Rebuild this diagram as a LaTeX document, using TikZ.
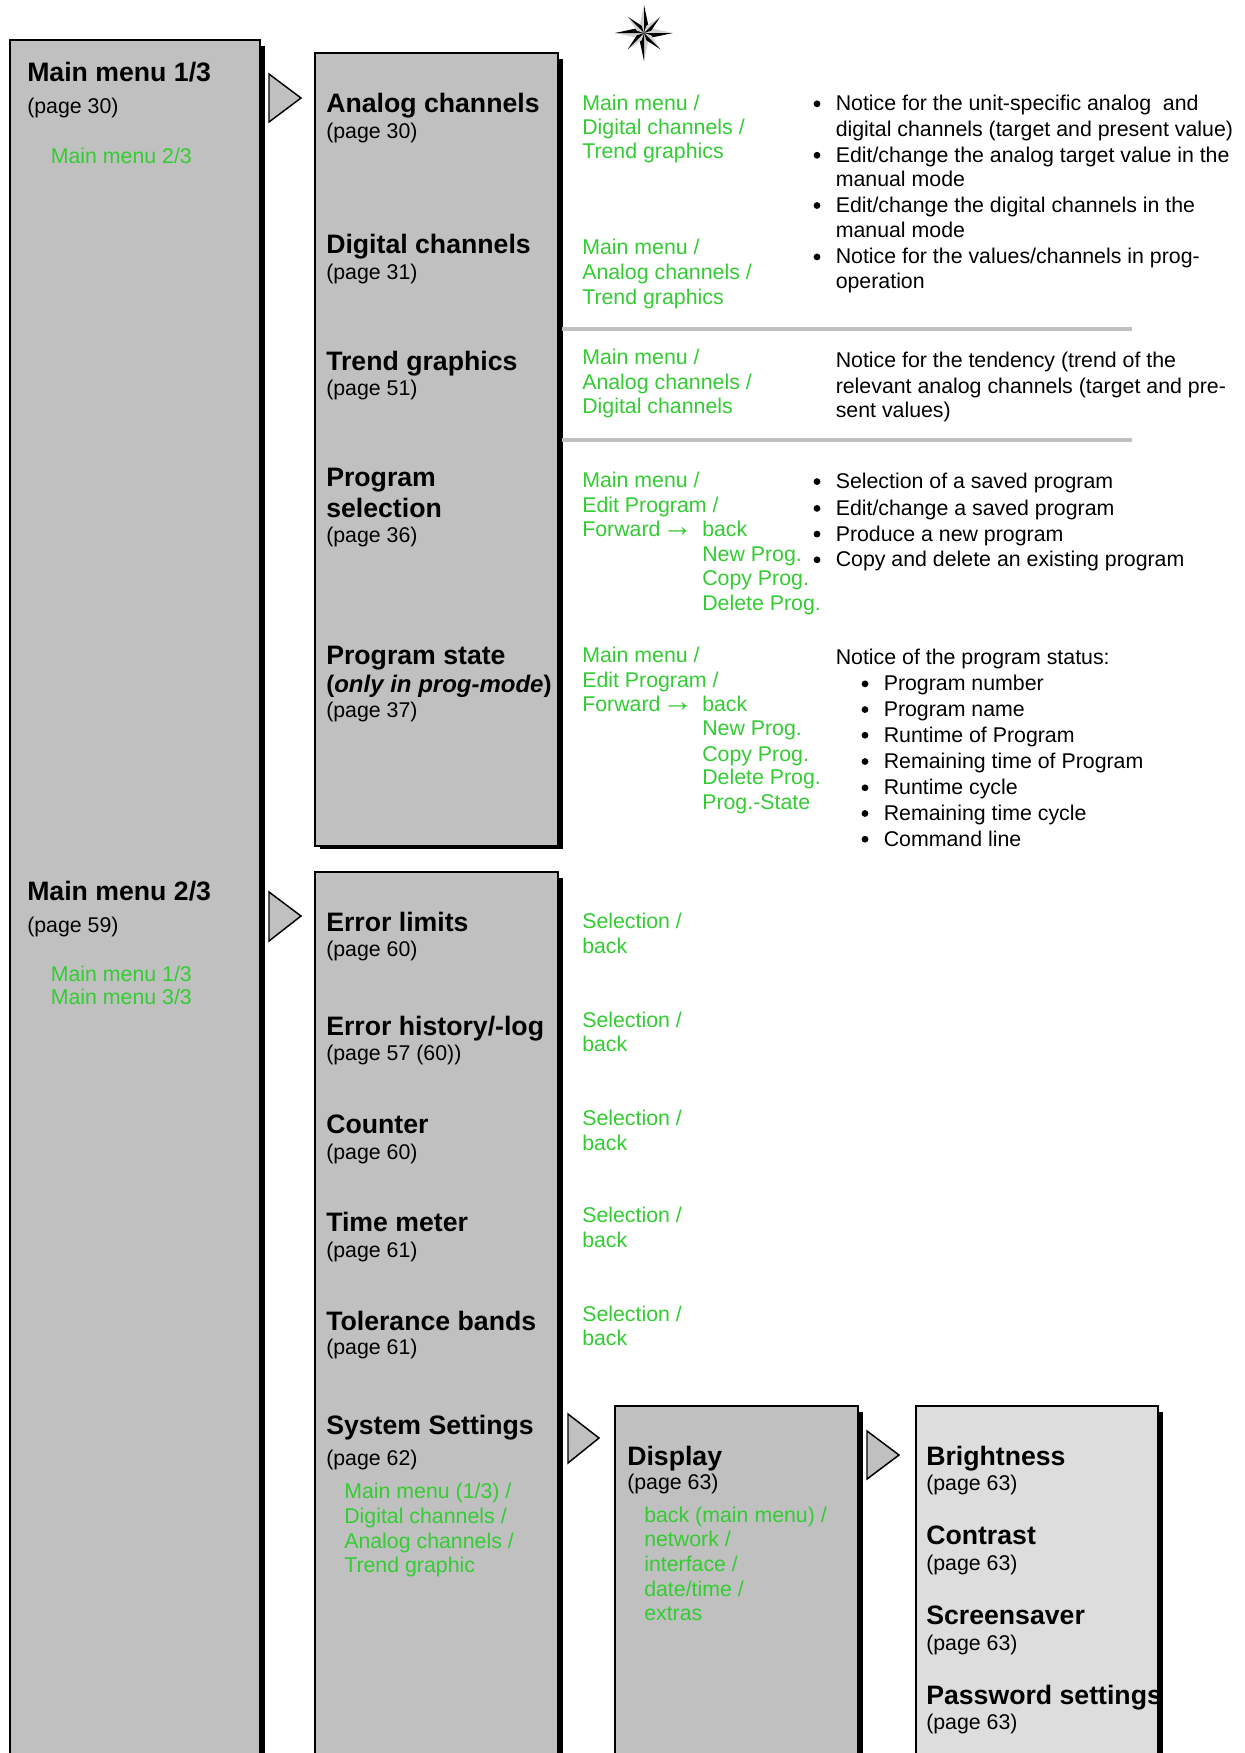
\documentclass[tikz,border=0pt]{standalone}
\usepackage{fontspec}
\setmainfont{Liberation Sans}
\definecolor{boxgray}{HTML}{C0C0C0}
\definecolor{boxlight}{HTML}{DDDDDD}
\definecolor{menugreen}{HTML}{33CC33}
\tikzset{
  x=0.75pt,y=-0.75pt,
  panel/.style={draw=black,line width=1.2pt,fill=boxgray,anchor=north west,inner sep=0pt,outer sep=0pt},
  panellight/.style={panel,fill=boxlight},
  head/.style={font=\fontsize{20pt}{24pt}\selectfont\bfseries,anchor=base west,inner sep=0pt},
  plain/.style={font=\fontsize{16pt}{20pt}\selectfont,anchor=base west,inner sep=0pt},
  green/.style={plain,text=menugreen},
  tri/.style={draw=black,line width=1.1pt,fill=boxgray,line join=miter},
  sep/.style={draw=boxgray,line width=2.4pt},
}
\newcommand\Panel[6]{% name,x1,y1,x2,y2,style
  \fill[black] (#2+5,#3+6) rectangle (#4+4.5,#5+3);
  \node[#6,minimum width={(#4-#2)*0.75pt},minimum height={(#5-#3)*0.75pt}] (#1) at (#2,#3) {};
}
\newcommand\Hd[4]{\node[head] (#1) at (#2,{#3*1.1176+10}) {#4};}
\newcommand\Rg[4]{\node[plain] (#1) at (#2,{#3*1.1176+8}) {#4};}
\newcommand\Gr[4]{\node[green] (#1) at (#2,{#3*1.1176+8}) {#4};}
\newcommand\Bu[5]{\node[plain] (#1) at (#3,{#4*1.1176+8}) {#5};
  \fill[black] (#2,{#4*1.1176+1}) circle[radius=3.4];}
\newcommand\BigArrow{\hspace{-3pt}{\fontsize{23pt}{20pt}\selectfont →}}
\begin{document}
\begin{tikzpicture}
\useasboundingbox (0,0) rectangle (1245,1753);
\clip (0,0) rectangle (1245,1753);
\fill[white] (0,0) rectangle (1245,1753);
% star
\foreach \a/\r in {0/29,90/28,180/29,270/28,45/23,135/23,225/23,315/23}{
  \fill[black!18] (644,33) -- ++({\a}:{\r}) -- ++({\a+180+12}:{\r*0.72}) -- cycle;
  \fill[black] (644,33) -- ++({\a}:{\r}) -- ++({\a+180-12}:{\r*0.72}) -- cycle;
}
% panels
\Panel{mainpanel}{10}{40}{260}{1800}{panel}
\Panel{upperpanel}{315}{53}{558}{846}{panel}
\Panel{lowerpanel}{315}{872}{558}{1800}{panel}
\Panel{displaypanel}{615}{1406}{858}{1800}{panel}
\Panel{settingspanel}{916}{1406}{1158}{1800}{panellight}
% triangles
\draw[tri] (269,74) -- (301,98) -- (269,122) -- cycle;
\draw[tri] (269,892) -- (301,916) -- (269,941) -- cycle;
\draw[tri] (568,1414) -- (599,1438) -- (568,1463) -- cycle;
\draw[tri] (867,1431) -- (899,1455) -- (867,1479) -- cycle;
% separators
\coordinate (sepa) at (562,329); \coordinate (sepb) at (1132,329);
\coordinate (sepc) at (562,440); \coordinate (sepd) at (1132,440);
\draw[sep] (sepa) -- (sepb);
\draw[sep] (sepc) -- (sepd);
% left column
\Hd{m1}{27}{64}{Main menu 1/3}
\Rg{m1p}{27}{94}{(page 30)}
\Gr{m1g}{50.5}{139}{Main menu 2/3}
\Hd{m2}{27}{797}{Main menu 2/3}
\Rg{m2p}{27}{827}{(page 59)}
\Gr{m2ga}{50.5}{871}{Main menu 1/3}
\Gr{m2gb}{50.5}{892}{Main menu 3/3}
% second column
\Hd{an}{326}{92}{Analog channels}
\Rg{anp}{326}{117}{(page 30)}
\Hd{di}{326}{218}{Digital channels}
\Rg{dip}{326}{243}{(page 31)}
\Hd{tr}{326}{323}{Trend graphics}
\Rg{trp}{326}{347}{(page 51)}
\Hd{pra}{326}{426.5}{Program}
\Hd{prb}{326}{454}{selection}
\Rg{prp}{326}{478}{(page 36)}
\Hd{ps}{326}{586}{Program state}
\node[head,font=\fontsize{18pt}{22pt}\selectfont\bfseries] (psb) at (326,{612*1.1176+9}) {(\textit{only in prog-mode})};
\Rg{psp}{326}{635}{(page 37)}
\Hd{el}{326}{824.5}{Error limits}
\Rg{elp}{326}{849}{(page 60)}
\Hd{eh}{326}{918}{Error history/-log}
\Rg{ehp}{326}{942}{(page 57 (60))}
\Hd{co}{326}{1005}{Counter}
\Rg{cop}{326}{1030}{(page 60)}
\Hd{tm}{326}{1093}{Time meter}
\Rg{tmp}{326}{1118}{(page 61)}
\Hd{tb}{326}{1181.5}{Tolerance bands}
\Rg{tbp}{326}{1205}{(page 61)}
\Hd{ss}{326}{1274.5}{System Settings}
\Rg{ssp}{326}{1304}{(page 62)}
\Gr{ssa}{344}{1334}{Main menu (1/3) /}
\Gr{ssb}{344}{1356}{Digital channels /}
\Gr{ssc}{344}{1378}{Analog channels /}
\Gr{ssd}{344}{1400}{Trend graphic}
% green navigation
\Gr{ga}{582}{92}{Main menu /}
\Gr{gb}{582}{113.5}{Digital channels /}
\Gr{gc}{582}{135}{Trend graphics}
\Gr{gd}{582}{221}{Main menu /}
\Gr{ge}{582}{243}{Analog channels /}
\Gr{gf}{582}{265}{Trend graphics}
\Gr{gg}{582}{319}{Main menu /}
\Gr{gh}{582}{341}{Analog channels /}
\Gr{gi}{582}{363}{Digital channels}
\Gr{gj}{582}{429}{Main menu /}
\Gr{gk}{582}{451}{Edit Program /}
\Gr{gl}{582}{473}{Forward \BigArrow}
\Gr{gm}{702}{473}{back}
\Gr{gn}{702}{495}{New Prog.}
\Gr{go}{702}{517}{Copy Prog.}
\Gr{gp}{702}{539}{Delete Prog.}
\Gr{gq}{582}{586}{Main menu /}
\Gr{gr}{582}{608}{Edit Program /}
\Gr{gs}{582}{629.5}{Forward \BigArrow}
\Gr{gt}{702}{629.5}{back}
\Gr{gu}{702}{651}{New Prog.}
\Gr{gv}{702}{674}{Copy Prog.}
\Gr{gw}{702}{695}{Delete Prog.}
\Gr{gx}{702}{717}{Prog.-State}
\Gr{sa}{582}{824}{Selection /}
\Gr{sb}{582}{846}{back}
\Gr{sc}{582}{912}{Selection /}
\Gr{sd}{582}{934}{back}
\Gr{se}{582}{1000}{Selection /}
\Gr{sf}{582}{1022}{back}
\Gr{sg}{582}{1087}{Selection /}
\Gr{sh}{582}{1109}{back}
\Gr{si}{582}{1175}{Selection /}
\Gr{sj}{582}{1197}{back}
% descriptions
\Bu{da}{817}{835.5}{92}{Notice for the unit-specific analog\ \ and}
\Rg{db}{835.5}{115}{digital channels (target and present value)}
\Bu{dc}{817}{835.5}{138}{Edit/change the analog target value in the}
\Rg{dd}{835.5}{160}{manual mode}
\Bu{de}{817}{835.5}{183}{Edit/change the digital channels in the}
\Rg{df}{835.5}{205}{manual mode}
\Bu{dg}{817}{835.5}{229}{Notice for the values/channels in prog-}
\Rg{dh}{835.5}{251}{operation}
\Rg{na}{835.5}{322}{Notice for the tendency (trend of the}
\Rg{nb}{835.5}{345}{relevant analog channels (target and pre-}
\Rg{nc}{835.5}{366}{sent values)}
\Bu{pa}{817}{835.5}{430}{Selection of a saved program}
\Bu{pb}{817}{835.5}{454}{Edit/change a saved program}
\Bu{pc}{817}{835.5}{477}{Produce a new program}
\Bu{pd}{817}{835.5}{500}{Copy and delete an existing program}
\Rg{st}{835.5}{587}{Notice of the program status:}
\Bu{sta}{865}{883.5}{611}{Program number}
\Bu{stb}{865}{883.5}{634}{Program name}
\Bu{stc}{865}{883.5}{657}{Runtime of Program}
\Bu{std}{865}{883.5}{680.5}{Remaining time of Program}
\Bu{ste}{865}{883.5}{704}{Runtime cycle}
\Bu{stf}{865}{883.5}{727}{Remaining time cycle}
\Bu{stg}{865}{883.5}{750}{Command line}
% display panel
\Hd{dsp}{627}{1302}{Display}
\Rg{dspp}{627}{1326}{(page 63)}
\Gr{dga}{644}{1355}{back (main menu) /}
\Gr{dgb}{644}{1377}{network /}
\Gr{dgc}{644}{1399}{interface /}
\Gr{dgd}{644}{1421}{date/time /}
\Gr{dge}{644}{1443}{extras}
% settings panel
\Hd{br}{926}{1302}{Brightness}
\Rg{brp}{926}{1326.5}{(page 63)}
\Hd{ct}{926}{1373}{Contrast}
\Rg{ctp}{926}{1398}{(page 63)}
\Hd{sv}{926}{1444.5}{Screensaver}
\Rg{svp}{926}{1469.5}{(page 63)}
\Hd{pw}{926}{1516}{Password settings}
\Rg{pwp}{926}{1540}{(page 63)}
\end{tikzpicture}
\end{document}
